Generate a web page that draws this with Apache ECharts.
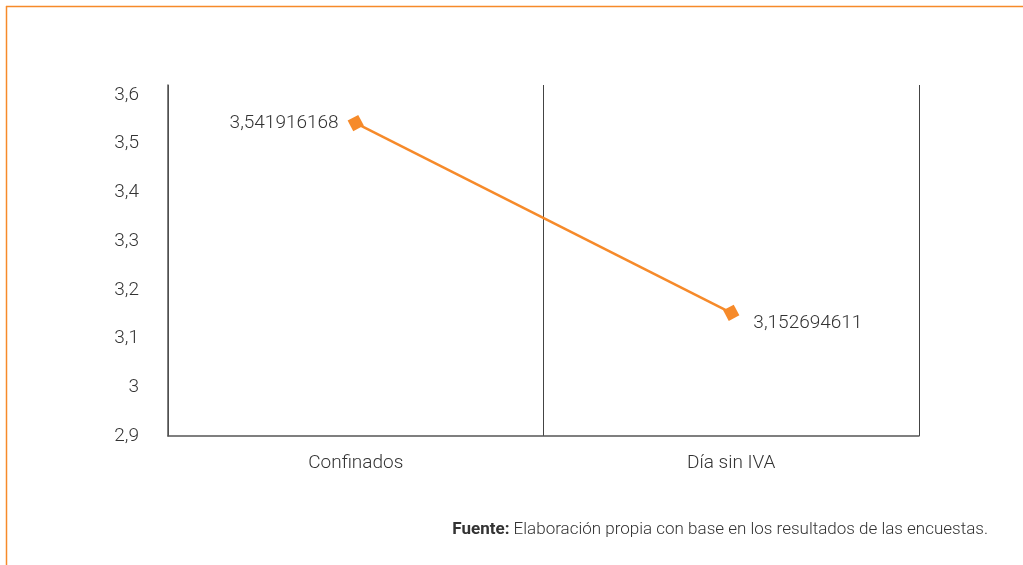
<!DOCTYPE html>
<html>
<head>
<meta charset="utf-8">
<script src="https://cdn.jsdelivr.net/npm/echarts@6/dist/echarts.min.js"></script>
<style>html,body{margin:0;padding:0;background:#fff;}#c{width:1023px;height:565px;}</style>
</head>
<body>
<div id="c"></div>
<script>
var categories = ['Confinados', 'Día sin IVA'];
var values = [3.541916168, 3.152694611];
var valueLabels = ['3,541916168', '3,152694611'];
var yMin = 2.9, yMax = 3.6, yStep = 0.1;

var chart = echarts.init(document.getElementById('c'));
var font = 'Roboto';
var fw = 300;
var orange = '#F68A2A';
var labelPlacement = [
  { position: 'left', distance: 9, offset: [0, 0] },
  { position: 'right', distance: 14, offset: [0, 10] }
];
var seriesData = values.map(function (v, i) {
  return { value: v, label: labelPlacement[i] };
});

chart.setOption({
  backgroundColor: '#fff',
  animation: false,
  textStyle: { fontFamily: font },
  grid: { left: 168, right: 104, top: 85, bottom: 129 },
  xAxis: {
    type: 'category',
    data: categories,
    boundaryGap: true,
    axisLine: { show: true, lineStyle: { color: '#555', width: 1.5 } },
    axisTick: { show: false },
    splitLine: { show: true, lineStyle: { color: '#444', width: 1 } },
    axisLabel: { color: '#333', fontSize: 19, fontWeight: fw, margin: 18, fontFamily: font }
  },
  yAxis: {
    type: 'value',
    min: yMin, max: yMax + 0.02, interval: yStep,
    axisLine: { show: true, lineStyle: { color: '#555', width: 1.5 } },
    axisTick: { show: false },
    splitLine: { show: false },
    axisLabel: {
      color: '#333', fontSize: 19, fontWeight: fw, margin: 29, fontFamily: font,
      showMaxLabel: false,
      padding: [3, 0, 0, 0],
      formatter: function (v) {
        if (v > yMax + 1e-9) return '';
        return (Math.round(v * 10) / 10).toString().replace('.', ',');
      }
    }
  },
  series: [{
    type: 'line',
    data: seriesData,
    symbol: 'rect',
    symbolSize: 12,
    symbolKeepAspect: true,
    symbolRotate: 28,
    lineStyle: { color: orange, width: 2.5 },
    itemStyle: { color: orange },
    label: {
      show: true,
      color: '#333',
      fontSize: 19,
      fontWeight: fw,
      fontFamily: font,
      formatter: function (p) { return valueLabels[p.dataIndex]; }
    }
  }],
  graphic: [
    { type: 'line', shape: { x1: 6, y1: 6.5, x2: 1023, y2: 6.5 }, style: { stroke: orange, lineWidth: 1.5 } },
    { type: 'line', shape: { x1: 6.5, y1: 6, x2: 6.5, y2: 565 }, style: { stroke: orange, lineWidth: 1.5 } },
    {
      type: 'text', right: 35, top: 521,
      style: {
        text: '{b|Fuente:} Elaboración propia con base en los resultados de las encuestas.',
        rich: {
          b: { fontWeight: 'bold', fontSize: 17, fontFamily: font, fill: '#333' }
        },
        fontSize: 17, fontWeight: fw, fontFamily: font, fill: '#333'
      }
    }
  ]
});
</script>
</body>
</html>
